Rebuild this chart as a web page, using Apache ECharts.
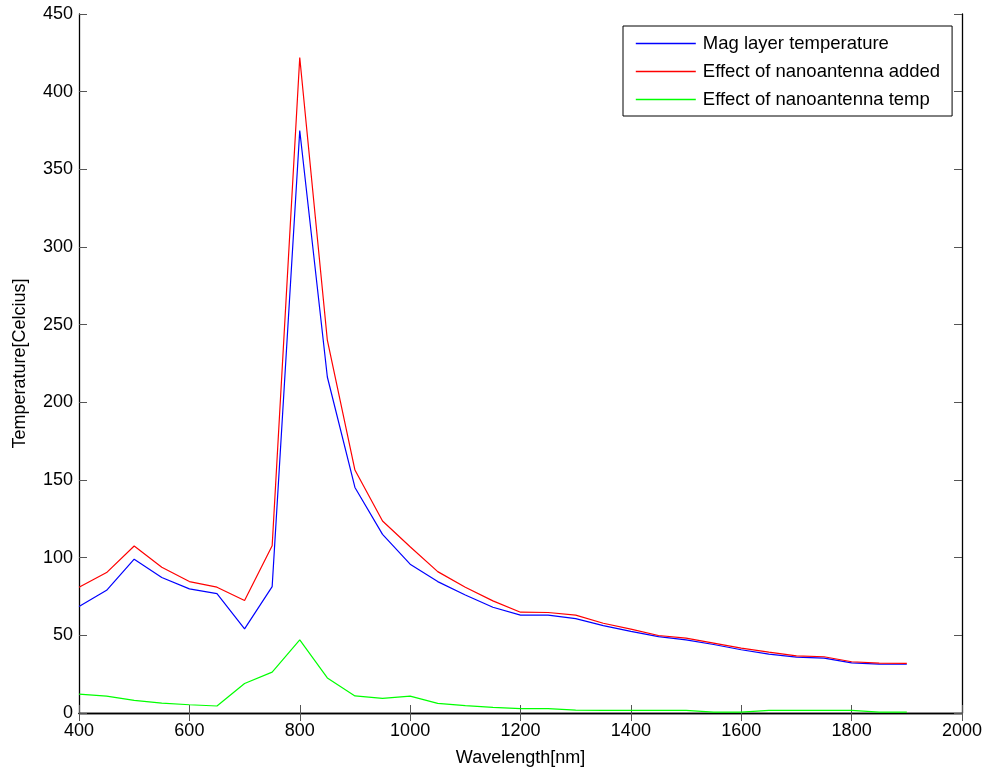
<!DOCTYPE html>
<html>
<head>
<meta charset="utf-8">
<script src="https://cdn.jsdelivr.net/npm/echarts@6/dist/echarts.min.js"></script>
<style>
  html, body { margin: 0; padding: 0; background: #fff; }
  #chart { width: 988px; height: 769px; }
</style>
</head>
<body>
<div id="chart"></div>
<script>
// Wavelength samples (nm)
const wavelengths = [400, 450, 500, 550, 600, 650, 700, 750, 800, 850, 900, 950, 1000, 1050, 1100,
  1150, 1200, 1250, 1300, 1350, 1400, 1450, 1500, 1550, 1600, 1650, 1700, 1750, 1800, 1850, 1900];

// Temperatures (Celsius)
const magLayerTemp = [68.5, 79, 99, 87.2, 79.9, 76.9, 54.2, 81.4, 375, 216.3, 145.2, 115, 95.8, 84.6, 76,
  68.1, 63, 63, 60.8, 56.3, 52.5, 49.2, 47.1, 44.1, 40.7, 37.9, 36, 35.3, 32.3, 31.5, 31.4];
const nanoantennaAdded = [81, 90.4, 107.5, 93.8, 84.6, 81, 72.4, 107.7, 422, 240, 156.4, 123.6, 107, 91, 81,
  72.2, 64.9, 64.7, 63, 57.8, 54, 49.9, 48.2, 45, 41.8, 39.2, 36.8, 36.2, 33, 32.1, 32];
const nanoantennaTemp = [12.2, 10.9, 8.1, 6.4, 5.3, 4.5, 19, 26.3, 47.1, 22.6, 11, 9.4, 10.9, 6.2, 4.7,
  3.6, 2.8, 2.8, 1.9, 1.7, 1.7, 1.7, 1.7, 0.6, 0.6, 1.7, 1.7, 1.7, 1.7, 0.6, 0.6];

const seriesNames = ['Mag layer temperature', 'Effect of nanoantenna added', 'Effect of nanoantenna temp'];
const seriesColors = ['#0000ff', '#ff0000', '#00ff00'];

const pairs = ys => wavelengths.map((x, i) => [x, ys[i]]);

const FONT = 'Liberation Sans, Arial, Helvetica, sans-serif';
const tickStyle = { show: true, inside: true, length: 8, lineStyle: { color: '#555', width: 1 } };

const chart = echarts.init(document.getElementById('chart'), null, { renderer: 'canvas' });

const option = {
  backgroundColor: '#ffffff',
  animation: false,
  textStyle: { fontFamily: FONT },
  grid: { left: 79, right: 26, top: 14, bottom: 56, containLabel: false, outerBoundsMode: 'none' },
  legend: {
    left: 623,
    top: 26,
    orient: 'vertical',
    data: seriesNames.map((name, i) => ({
      name,
      lineStyle: { color: seriesColors[i], width: 1.6 },
      itemStyle: { color: 'rgba(0,0,0,0)', borderColor: 'rgba(0,0,0,0)', borderWidth: 0 }
    })),
    itemWidth: 60,
    itemHeight: 17,
    itemGap: 9,
    padding: [8, 12, 7, 12],
    backgroundColor: '#ffffff',
    borderColor: '#000000',
    borderWidth: 1,
    borderRadius: 0,
    textStyle: { fontFamily: FONT, fontSize: 18.5, lineHeight: 18, color: '#000', padding: [0, 0, 0, 2] }
  },
  xAxis: [
    {
      type: 'value', position: 'bottom', min: 400, max: 2000, interval: 200,
      name: 'Wavelength[nm]', nameLocation: 'middle', nameGap: 36,
      nameTextStyle: { fontFamily: FONT, fontSize: 18, color: '#000' },
      axisLine: { show: true, lineStyle: { color: '#000', width: 1.3 } },
      axisTick: tickStyle,
      axisLabel: { fontFamily: FONT, fontSize: 18, color: '#000', margin: 9, formatter: v => String(v) },
      splitLine: { show: false }
    },
    {
      type: 'value', position: 'top', min: 400, max: 2000, interval: 200,
      axisLine: { show: true, lineStyle: { color: '#000', width: 1.3 } },
      axisTick: tickStyle,
      axisLabel: { show: false },
      splitLine: { show: false }
    }
  ],
  yAxis: [
    {
      type: 'value', position: 'left', min: 0, max: 450, interval: 50,
      name: 'Temperature[Celcius]', nameLocation: 'middle', nameGap: 50, nameRotate: 90,
      nameTextStyle: { fontFamily: FONT, fontSize: 18, color: '#000' },
      axisLine: { show: true, lineStyle: { color: '#000', width: 1.3 } },
      axisTick: tickStyle,
      axisLabel: { fontFamily: FONT, fontSize: 18, color: '#000', margin: 6 },
      splitLine: { show: false }
    },
    {
      type: 'value', position: 'right', min: 0, max: 450, interval: 50,
      axisLine: { show: true, lineStyle: { color: '#000', width: 1.3 } },
      axisTick: tickStyle,
      axisLabel: { show: false },
      splitLine: { show: false }
    }
  ],
  series: [magLayerTemp, nanoantennaAdded, nanoantennaTemp].map((ys, i) => ({
    name: seriesNames[i],
    type: 'line',
    xAxisIndex: 0,
    yAxisIndex: 0,
    data: pairs(ys),
    symbol: 'none',
    showSymbol: false,
    color: seriesColors[i],
    lineStyle: { color: seriesColors[i], width: 1.2 },
    z: 2 + i
  }))
};

chart.setOption(option);
</script>
</body>
</html>
